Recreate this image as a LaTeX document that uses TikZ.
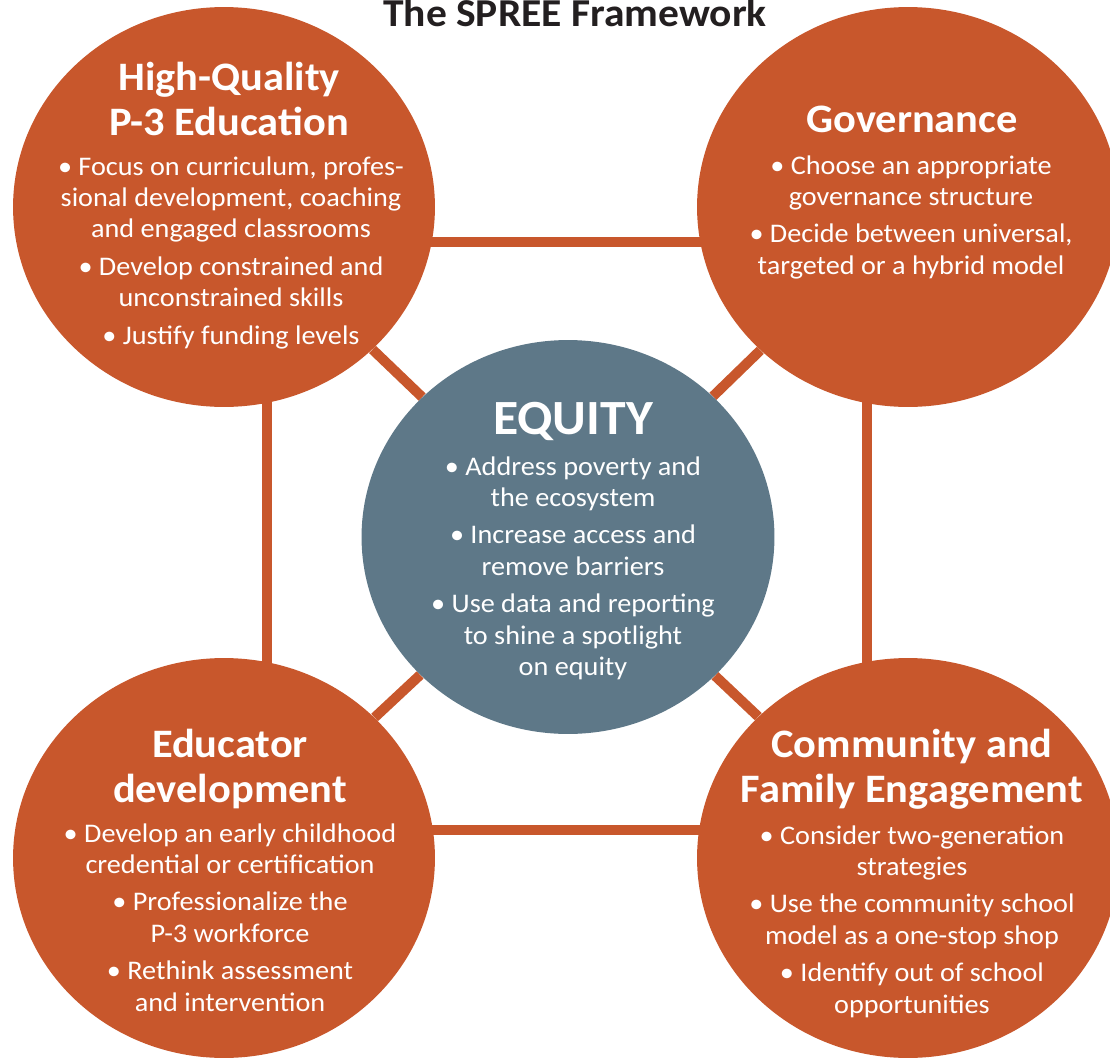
\documentclass[tikz,border=0pt]{standalone}
\usepackage{fontspec}
\setmainfont{Carlito}[FakeStretch=1.05]
\usetikzlibrary{shapes.geometric,backgrounds,calc}

\definecolor{spreeorange}{RGB}{200,87,44}
\definecolor{spreeslate}{RGB}{94,120,136}
\definecolor{spreetitle}{RGB}{35,31,32}

\tikzset{
  pillar/.style={ellipse, fill=spreeorange, inner sep=0pt, minimum width=8.44cm, minimum height=8cm},
  hub/.style={ellipse, fill=spreeslate, inner sep=0pt, minimum width=8.26cm, minimum height=7.88cm},
  link/.style={draw=spreeorange, line width=0.2cm},
  heading/.style={anchor=north, inner sep=0pt, align=center, text=white, font=\bfseries\fontsize{23}{25.5}\selectfont},
  points/.style={anchor=north, inner sep=0pt, align=center, text=white, font=\fontsize{15.3}{17.9}\selectfont},
}

\begin{document}
\begin{tikzpicture}[x=0.02cm, y=-0.02cm]
  \useasboundingbox (0,0) rectangle (1110,1058);

  % circles
  \node[pillar] (hq) at (224,207) {};
  \node[pillar] (gov) at (908,207) {};
  \node[pillar] (edu) at (224,858) {};
  \node[pillar] (cfe) at (908,858) {};
  \node[hub] (equity) at (568,537) {};

  % connectors behind the circles
  \begin{scope}[on background layer]
    \draw[link] (hq) -- (equity);
    \draw[link] (gov) -- (equity);
    \draw[link] (edu) -- (equity);
    \draw[link] (cfe) -- (equity);
    \draw[link] ($(hq)+(0,35)$) -- ($(gov)+(0,35)$);
    \draw[link] ($(edu)+(0,-28)$) -- ($(cfe)+(0,-28)$);
    \draw[link] ($(hq)+(43,0)$) -- ($(edu)+(43,0)$);
    \draw[link] ($(gov)+(-41,0)$) -- ($(cfe)+(-41,0)$);
  \end{scope}

  \node[anchor=base, inner sep=0pt, text=spreetitle, font=\bfseries\fontsize{22.5}{26}\selectfont] (title) at (575,27) {The SPREE Framework};

  % texts
  \node[heading] (hqhead) at (229,62) {High-Quality\\P-3 Education};
  \node[points] (hqtext) at (231,156) {\textbullet\ Focus on curriculum, profes-\\sional development, coaching\\and engaged classrooms\\[3.4pt]\textbullet\ Develop constrained and\\unconstrained skills\\[3.4pt]\textbullet\ Justify funding levels};

  \node[heading] (govhead) at (912,106) {Governance};
  \node[points] (govtext) at (911,155) {\textbullet\ Choose an appropriate\\governance structure\\[3.4pt]\textbullet\ Decide between universal,\\targeted or a hybrid model};

  \node[heading] (eduhead) at (230,729) {Educator\\development};
  \node[points] (edutext) at (230,823) {\textbullet\ Develop an early childhood\\credential or certification\\[3.4pt]\textbullet\ Professionalize the\\P-3 workforce\\[3.4pt]\textbullet\ Rethink assessment\\and intervention};

  \node[heading] (cfehead) at (912,729) {Community and\\Family Engagement};
  \node[points] (cfetext) at (912,825) {\textbullet\ Consider two-generation\\strategies\\[3.4pt]\textbullet\ Use the community school\\model as a one-stop shop\\[3.4pt]\textbullet\ Identify out of school\\opportunities};

  \node[heading, font=\bfseries\fontsize{28}{32}\selectfont] (eqhead) at (573,402) {EQUITY};
  \node[points] (eqtext) at (573,456) {\textbullet\ Address poverty and\\the ecosystem\\[3.4pt]\textbullet\ Increase access and\\remove barriers\\[3.4pt]\textbullet\ Use data and reporting\\to shine a spotlight\\on equity};
\end{tikzpicture}
\end{document}
